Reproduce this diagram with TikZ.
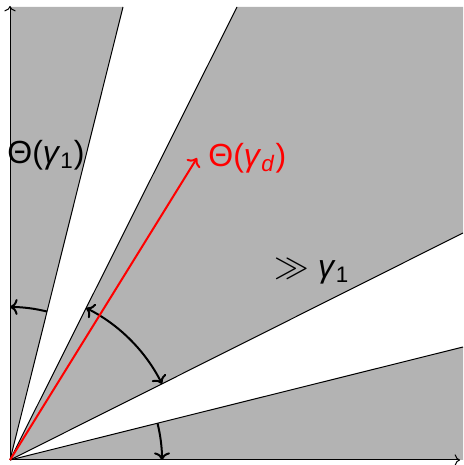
\documentclass[tikz,border=0pt]{standalone}
\usepackage{fontspec}
\setmainfont{Liberation Sans}
\usetikzlibrary{arrows.meta}
\definecolor{sectorgray}{RGB}{179,179,179}

\begin{document}
\begin{tikzpicture}[x=0.5pt, y=0.5pt,
    sector/.style={fill=sectorgray, draw=none},
    ray/.style={draw=black, line width=0.5pt},
    axis/.style={->, line width=0.5pt},
    angle/.style={line width=1pt},
    lbl/.style={font=\fontsize{16}{19}\selectfont, inner sep=0pt}
]
\useasboundingbox (0,0) rectangle (463,465);
\coordinate (O) at (10,5);
\coordinate (r1) at (123,458);
\coordinate (r2) at (237,458);
\coordinate (r3) at (463,232);
\coordinate (r4) at (463,118);
\coordinate (xend) at (460,5);
\coordinate (yend) at (10,459);
\coordinate (dtip) at (197,307);

% shaded sectors
\fill[sector] (O) -- (10,458) -- (r1) -- cycle;
\fill[sector] (O) -- (r2) -- (463,458) -- (r3) -- cycle;
\fill[sector] (O) -- (r4) -- (463,5) -- cycle;
\foreach \r in {r1,r2,r3,r4}
  \draw[ray] (O) -- (\r);

% axes
\draw[axis] (O) -- (xend);
\draw[axis] (O) -- (yend);

% angles
\draw[angle,->] (O) ++(76:153) arc[start angle=76, end angle=90, radius=153];
\draw[angle,<->] (O) ++(63.4:170) arc[start angle=63.4, end angle=26.6, radius=170];
\draw[angle,->] (O) ++(14:152) arc[start angle=14, end angle=0, radius=152];

% direction
\draw[red, line width=1pt, ->] (O) -- (dtip);
\node[lbl, red, anchor=west] (gd) at (208,307) {Θ(\textit{γ}\textsubscript{\textit{d}})};
\node[lbl] (g1) at (46,310) {Θ(\textit{γ}\textsubscript{1})};
\node[lbl] (gg) at (312,194) {$\gg$ \textit{γ}\textsubscript{1}};
\end{tikzpicture}
\end{document}
